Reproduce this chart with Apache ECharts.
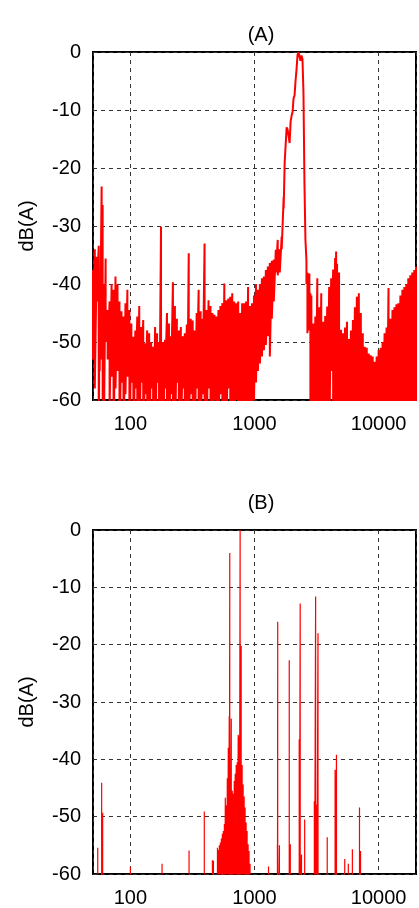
<!DOCTYPE html>
<html>
<head>
    <meta charset="utf-8">
    <title>dB(A) spectra</title>
    <script src="https://cdn.jsdelivr.net/npm/echarts@6/dist/echarts.min.js"></script>
    <style>
        html, body { margin: 0; padding: 0; background: #fff; }
    </style>
</head>
<body>
<div id="spec" style="width: 419px; height: 908px;"></div>
<script type="text/javascript">
    // x tick labels that are printed (log axis)
    var xTicks = [100, 1000, 10000];

    // (A) spectrum, read column by column: frequency, upper level, lower level
    var freqA = [50, 51.7, 53.6, 55.6, 56.6, 58.7, 59.8, 60.9, 63.2, 65.6, 68.0, 70.6, 73.2, 75.9, 78.8, 81.7, 84.8, 88.0, 91.3, 94.6,
        98.2, 101.9, 105.7, 109.6, 113.7, 117.9, 122.4, 126.9, 131.7, 136.6, 141.7, 147.0, 152.5, 158.2, 164.1, 170.3, 176.6, 183.2, 190.1, 197.2,
        204.6, 212.2, 220.2, 228.4, 236.9, 245.8, 255.0, 264.5, 274.4, 284.7, 295.3, 306.4, 317.8, 329.7, 342.0, 354.8, 368.1, 381.8, 396.1, 410.9,
        426.3, 442.2, 458.6, 475.9, 493.5, 512.0, 531.2, 550.8, 571.5, 592.9, 615.0, 638.0, 661.8, 686.7, 712.2, 738.8, 766.5, 795.2, 824.9, 855.8,
        887.8, 920.8, 955.2, 990.8, 1028, 1066, 1106, 1148, 1190, 1235, 1281, 1329, 1379, 1430, 1484, 1539, 1597, 1656, 1718, 1750,
        1782, 1815, 1849, 1883, 1918, 1954, 1990, 2027, 2064, 2102, 2141, 2181, 2222, 2263, 2304, 2347, 2391, 2435, 2480, 2526,
        2573, 2621, 2669, 2718, 2768, 2820, 2872, 2980, 3090, 3206, 3326, 3450, 3579, 3712, 3852, 3995, 4145, 4300, 4460, 4543,
        4627, 4801, 4980, 5166, 5360, 5559, 5768, 5983, 6206, 6439, 6679, 6928, 7188, 7456, 7734, 8024, 8323, 8636, 8959, 9293,
        9640, 10000, 10373, 10762, 11164, 11580, 12013, 12462, 12929, 13411, 13912, 14432, 14971, 15531, 16113, 16714, 17338, 17988, 18660, 19360,
        20000];
    var peakA = [-37.6, -34, -35.3, -33.4, -37.8, -23.2, -26.4, -40, -35.6, -44.5, -43, -40, -41, -38.7, -40.1, -43, -44.7, -45.6, -43.3, -41,
        -44.5, -46.8, -49.1, -48, -45.6, -43.8, -47.4, -46.2, -50.2, -48, -48.5, -50, -50.8, -47.4, -48.5, -50, -30.1, -50, -49.6, -45,
        -46.8, -49, -39.7, -43.8, -46, -48, -47.4, -49, -48.5, -47, -34.7, -46, -46.3, -48, -45, -41, -44.7, -46, -33, -44.5,
        -42.8, -43.8, -45, -45.3, -45.6, -44.5, -43.8, -43.3, -39.9, -42.8, -42.5, -42.2, -41.6, -43, -43.3, -43, -45, -43.3, -43.3, -43,
        -40.5, -43.8, -43.3, -42, -40, -41, -40, -39, -38.7, -37.6, -37, -36.4, -36, -35.8, -34.1, -32.4, -34, -31.8, -25, -19,
        -18.9, -13, -13.4, -14.5, -15.7, -12, -11, -10.3, -8, -7.5, -5, -3, -0.5, 0, -0.3, -1.5, -0.6, -1.2, -7, -22.6,
        -32.4, -36, -38, -40, -38.2, -41.6, -42, -46.8, -45.6, -39, -44, -41.6, -46.5, -45.5, -43.9, -40.5, -39, -37.5, -35.5, -34.4,
        -36.5, -38, -47.9, -48.5, -47.5, -46.5, -49.5, -48, -46.2, -44, -42.2, -41.6, -45, -48.5, -50.8, -51, -52, -52.3, -52.5, -53.4,
        -52.5, -51.4, -51, -50, -48.5, -47.5, -40.7, -46, -44.5, -44, -43.5, -43.3, -42, -41, -40.5, -40, -39, -38.5, -38, -37.6,
        -37];
    var troughA = [-53, -58, -43, -70, -55, -53, -60, -70, -50, -53, -62, -56, -70, -58, -55, -70, -57, -70, -59, -56,
        -70, -57, -70, -58, -70, -70, -57, -70, -59, -70, -70, -58, -70, -70, -57, -70, -70, -70, -58, -70,
        -70, -59, -70, -70, -57, -70, -70, -58, -70, -70, -70, -59, -70, -70, -58, -70, -70, -59, -70, -70,
        -58, -70, -70, -60, -70, -70, -59, -70, -70, -70, -58, -70, -70, -70, -60, -70, -70, -70, -62, -70,
        -70, -70, -64, -60, -57, -55, -53.7, -52.5, -51.4, -50.5, -49, -52.5, -46, -43, -38, -38.5, -38, -34, -27, -19,
        -18.9, -13, -13.4, -14.5, -15.7, -12, -11, -10.3, -8, -7.5, -5, -3, -0.5, 0, -0.3, -1.5, -0.6, -1.2, -7, -22.6,
        -32.4, -40, -48.5, -48, -46, -70, -70, -70, -70, -70, -70, -70, -70, -70, -70, -70, -55, -70, -70, -70,
        -70, -70, -70, -70, -70, -70, -70, -70, -70, -70, -70, -62, -70, -70, -70, -70, -70, -70, -70, -70,
        -70, -70, -70, -70, -70, -70, -70, -70, -70, -70, -70, -70, -70, -70, -70, -70, -70, -70, -70, -70,
        -70];

    // (B) spectrum: isolated lines, level of each line, floor between lines
    var freqB = [54.6, 58.7, 59.8, 100, 180, 297, 394, 458, 467, 503, 512, 521, 531, 541, 551, 561, 572, 582, 593, 604,
        615, 626, 632, 650, 662, 674, 687, 699, 712, 726, 739, 753, 766, 781, 795, 810, 825, 840, 856, 872,
        888, 904, 921, 1297, 1530, 1538, 1588, 1905, 1943, 2292, 2334, 2391, 2536, 3034, 3108, 3165, 3248, 3853, 4460, 4574,
        5333, 5700, 6143, 7012, 7145];
    var peakB = [-55.4, -44.1, -49.3, -58.8, -58.2, -55.9, -49.1, -57.6, -57.7, -55.4, -55.8, -55, -54.5, -53.8, -53, -52.5, -51.3, -46.7, -48, -43.3,
        -38, -32.5, -4, -32.9, -45.5, -46, -43.8, -42.5, -41, -40.5, -35.7, -36, 0, -20.2, -41, -44.4, -46.5, -48.4, -51, -52.5,
        -54.8, -56, -58.2, -58.7, -54.8, -16, -55, -22.7, -54.8, -36.5, -12.8, -56.6, -50.5, -47.3, -11.6, -47.9, -18, -53.6, -41.8, -39.2,
        -57.4, -58.2, -55.7, -48.4, -56];
    var floorB = -80;

    var font = "'Liberation Sans', Arial, sans-serif";

    function zigzag(freq, hi, lo) {
        var out = [];
        for (var i = 0; i < freq.length; i++) {
            out.push([freq[i], hi[i]]);
            if (lo[i] !== hi[i]) out.push([freq[i], lo[i]]);
        }
        return out;
    }

    function lines(freq, hi, floor) {
        var out = [];
        for (var i = 0; i < freq.length; i++) {
            out.push([freq[i], floor], [freq[i], hi[i]], [freq[i], floor]);
        }
        return out;
    }

    function xAxisFor(idx) {
        return {
            gridIndex: idx,
            type: 'log',
            logBase: 10,
            min: 50,
            max: 20000,
            axisLine: { show: false },
            axisTick: { show: false },
            axisLabel: {
                color: '#000',
                fontFamily: font,
                fontSize: 20,
                margin: 14,
                formatter: function (v) {
                    var r = Math.round(v);
                    return xTicks.indexOf(r) >= 0 ? String(r) : '';
                }
            },
            splitLine: { show: true, lineStyle: { color: '#333', width: 1, type: [4, 4] } }
        };
    }

    function yAxisFor(idx) {
        return {
            gridIndex: idx,
            type: 'value',
            min: -60,
            max: 0,
            interval: 10,
            name: 'dB(A)',
            nameLocation: 'middle',
            nameRotate: 90,
            nameGap: 56,
            nameTextStyle: { color: '#000', fontFamily: font, fontSize: 20 },
            axisLine: { show: false },
            axisTick: { show: false },
            axisLabel: { color: '#000', fontFamily: font, fontSize: 20, margin: 12 },
            splitLine: { show: true, lineStyle: { color: '#333', width: 1, type: [4, 4] } }
        };
    }

    var chart = echarts.init(document.getElementById('spec'), null, { renderer: 'canvas' });
    chart.setOption({
        animation: false,
        backgroundColor: '#fff',
        title: [{
            text: '(A)', left: 256, top: 20, textAlign: 'center',
            textStyle: { color: '#000', fontFamily: font, fontSize: 20, fontWeight: 'normal' }
        }, {
            text: '(B)', left: 256, top: 488, textAlign: 'center',
            textStyle: { color: '#000', fontFamily: font, fontSize: 20, fontWeight: 'normal' }
        }],
        grid: [
            { left: 93, top: 52, width: 326, height: 348, show: true, borderColor: '#000', borderWidth: 2, backgroundColor: 'transparent' },
            { left: 93, top: 530, width: 326, height: 347, show: true, borderColor: '#000', borderWidth: 2, backgroundColor: 'transparent' }
        ],
        xAxis: [xAxisFor(0), xAxisFor(1)],
        yAxis: [yAxisFor(0), yAxisFor(1)],
        series: [{
            name: 'A',
            type: 'line',
            xAxisIndex: 0,
            yAxisIndex: 0,
            data: zigzag(freqA, peakA, troughA),
            showSymbol: false,
            symbol: 'none',
            lineStyle: { color: '#ff0000', width: 2, join: 'bevel' },
            itemStyle: { color: '#ff0000' }
        }, {
            name: 'B',
            type: 'line',
            xAxisIndex: 1,
            yAxisIndex: 1,
            data: lines(freqB, peakB, floorB),
            showSymbol: false,
            symbol: 'none',
            lineStyle: { color: '#ff0000', width: 1.2 },
            itemStyle: { color: '#ff0000' }
        }]
    });
</script>
</body>
</html>
